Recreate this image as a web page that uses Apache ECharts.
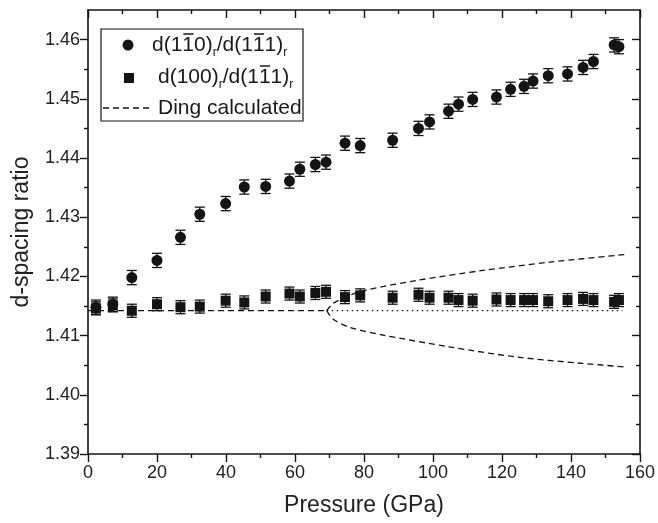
<!DOCTYPE html>
<html><head><meta charset="utf-8">
<script src="https://cdn.jsdelivr.net/npm/echarts@6/dist/echarts.min.js"></script>
<style>html,body{margin:0;padding:0;background:#fff}#c{width:658px;height:523px}</style>
</head><body><div id="c"></div>
<script>
// ---- data ----
const pressure = [2.3, 7.2, 12.7, 20.0, 26.8, 32.4, 39.9, 45.3, 51.5, 58.4, 61.4, 65.9, 69.0, 74.5, 78.9, 88.3, 95.8, 99.0, 104.5, 107.4, 111.5, 118.4, 122.5, 126.4, 129.0, 133.4, 139.0, 143.5, 146.5, 152.5, 153.9];
const ratio110 = [1.4148, 1.4153, 1.4198, 1.4227, 1.4266, 1.4305, 1.4323, 1.4351, 1.4352, 1.4361, 1.4381, 1.4389, 1.4393, 1.4425, 1.4421, 1.4430, 1.4450, 1.4461, 1.4479, 1.4491, 1.4499, 1.4503, 1.4516, 1.4521, 1.4530, 1.4539, 1.4542, 1.4553, 1.4563, 1.4591, 1.4588];
const err110 = [0.0012, 0.0012, 0.0012, 0.0012, 0.0012, 0.0012, 0.0012, 0.0012, 0.0012, 0.0012, 0.0012, 0.0012, 0.0012, 0.0012, 0.0012, 0.0012, 0.0012, 0.0012, 0.0012, 0.0012, 0.0012, 0.0012, 0.0012, 0.0012, 0.0012, 0.0012, 0.0012, 0.0012, 0.0012, 0.0012, 0.0012];
const ratio100 = [1.4146, 1.4151, 1.4142, 1.4153, 1.4148, 1.4149, 1.4159, 1.4156, 1.4166, 1.4171, 1.4166, 1.4172, 1.4174, 1.4165, 1.4168, 1.4164, 1.4169, 1.4164, 1.4164, 1.4160, 1.4159, 1.4161, 1.4160, 1.4160, 1.4160, 1.4158, 1.4160, 1.4162, 1.4160, 1.4157, 1.4160];
const err100 = [0.0011, 0.0011, 0.0011, 0.0011, 0.0011, 0.0011, 0.0011, 0.0011, 0.0011, 0.0011, 0.0011, 0.0011, 0.0011, 0.0011, 0.0011, 0.0011, 0.0011, 0.0011, 0.0011, 0.0011, 0.0011, 0.0011, 0.0011, 0.0011, 0.0011, 0.0011, 0.0011, 0.0011, 0.0011, 0.0011, 0.0011];
// Ding calculated
const dingCubicX = [0, 69.2];
const dingCubicY = [1.41421, 1.41421];
const dingUpperX = [69.2, 71.0, 75.8, 80.6, 95.1, 114.4, 133.7, 155.9];
const dingUpperY = [1.41421, 1.4154, 1.4168, 1.4177, 1.4193, 1.4210, 1.4224, 1.4237];
const dingLowerX = [69.2, 71.0, 75.8, 85.4, 104.7, 124.0, 143.3, 155.9];
const dingLowerY = [1.41421, 1.4128, 1.4114, 1.4101, 1.4081, 1.4064, 1.4053, 1.4047];
const dingDottedX = [69.2, 154.9];
const dingDottedY = [1.41421, 1.41421];
// ticks
const xTicks = [0, 20, 40, 60, 80, 100, 120, 140, 160];
const yTicks = [1.39, 1.40, 1.41, 1.42, 1.43, 1.44, 1.45, 1.46];
const yMinorTicks = [1.395, 1.405, 1.415, 1.425, 1.435, 1.445, 1.455];

const FONT = '"Liberation Sans", Arial, Helvetica, sans-serif';
const INK = '#141414';
const zip = (a, b) => a.map((v, i) => [v, b[i]]);

const chart = echarts.init(document.getElementById('c'), null, {renderer: 'canvas'});

function xAx(pos, major, inside, showLabel) {
  return {
    type: 'value', position: pos, min: xTicks[0], max: xTicks[xTicks.length - 1], interval: 20,
    axisLine: {show: major, onZero: false, lineStyle: {color: INK, width: 1.6}},
    axisTick: {show: true, inside: inside, length: 8, lineStyle: {color: INK, width: 1.4}},
    minorTick: {show: true, splitNumber: 2, length: 4, lineStyle: {color: INK, width: 1.4}},
    axisLabel: {show: showLabel, margin: 10, fontSize: 18, color: '#222', fontFamily: FONT},
    splitLine: {show: false}, minorSplitLine: {show: false}
  };
}
function yAx(pos, values, len, inside, showLabel, showLine) {
  return {
    type: 'value', position: pos, min: 1.39, max: 1.465, interval: 0.005,
    axisLine: {show: showLine, onZero: false, lineStyle: {color: INK, width: 1.6}},
    axisTick: {show: true, inside: inside, length: len, customValues: values, lineStyle: {color: INK, width: 1.4}},
    axisLabel: {show: showLabel, customValues: yTicks, margin: 8, fontSize: 18, color: '#222', fontFamily: FONT,
      formatter: v => v.toFixed(2)},
    splitLine: {show: false}
  };
}

const xAxes = [xAx('bottom', true, false, true), xAx('top', true, true, false)];
xAxes[0].name = 'Pressure (GPa)';
xAxes[0].nameLocation = 'middle';
xAxes[0].nameGap = 40;
xAxes[0].nameTextStyle = {fontSize: 23, color: '#222', fontFamily: FONT};

const yAxes = [
  yAx('left', yTicks, 8, false, true, true),
  yAx('left', yMinorTicks, 4, false, false, false),
  yAx('right', yTicks, 8, true, false, true),
  yAx('right', yMinorTicks, 4, true, false, false)
];
yAxes[0].name = 'd-spacing ratio';
yAxes[0].nameLocation = 'middle';
yAxes[0].nameGap = 55;
yAxes[0].nameTextStyle = {fontSize: 23, color: '#222', fontFamily: FONT};

function errSeries(vals, errs) {
  return {
    type: 'custom', xAxisIndex: 0, yAxisIndex: 0, z: 3,
    data: pressure.map((p, i) => [p, vals[i] - errs[i], vals[i] + errs[i]]),
    renderItem: function (params, api) {
      const lo = api.coord([api.value(0), api.value(1)]);
      const hi = api.coord([api.value(0), api.value(2)]);
      const hw = 5;
      const st = {stroke: INK, lineWidth: 1.3};
      return {type: 'group', children: [
        {type: 'line', shape: {x1: lo[0], y1: lo[1], x2: hi[0], y2: hi[1]}, style: st},
        {type: 'line', shape: {x1: lo[0] - hw, y1: lo[1], x2: lo[0] + hw, y2: lo[1]}, style: st},
        {type: 'line', shape: {x1: hi[0] - hw, y1: hi[1], x2: hi[0] + hw, y2: hi[1]}, style: st}
      ]};
    }
  };
}
function lineSeries(xs, ys, dash, smooth) {
  return {
    type: 'line', data: zip(xs, ys), showSymbol: false, smooth: smooth, z: 2,
    lineStyle: {color: INK, width: 1.3, type: dash}, silent: true
  };
}

const series = [
  lineSeries(dingCubicX, dingCubicY, [6, 4], false),
  lineSeries(dingUpperX, dingUpperY, [6, 4], 0.3),
  lineSeries(dingLowerX, dingLowerY, [6, 4], 0.3),
  lineSeries(dingDottedX, dingDottedY, [1.5, 3.5], false),
  errSeries(ratio110, err110),
  errSeries(ratio100, err100),
  {type: 'scatter', name: 'd110', data: zip(pressure, ratio110), symbol: 'circle', symbolSize: 11,
   itemStyle: {color: INK, opacity: 1}, z: 5},
  {type: 'scatter', name: 'd100', data: zip(pressure, ratio100), symbol: 'rect', symbolSize: 10,
   itemStyle: {color: INK, opacity: 1}, z: 5}
];

// ---- legend (drawn as graphic: text with sub/overlines) ----
const mctx = document.createElement('canvas').getContext('2d');
function tw(t, fs) { mctx.font = fs + 'px ' + FONT; return mctx.measureText(t).width; }
function richLabel(pieces, x0, base) {
  const out = [];
  let x = x0;
  pieces.forEach(p => {
    const fs = p.sub ? 12 : 21;
    const b = p.sub ? base + 5 : base;
    const w = tw(p.t, fs);
    out.push({type: 'text', x: x, y: b - 0.3465 * fs,
      style: {text: p.t, font: fs + 'px ' + FONT, fill: '#1a1a1a', verticalAlign: 'middle', align: 'left'}});
    if (p.over) {
      out.push({type: 'line', shape: {x1: x + 1, y1: b - 18, x2: x + w - 0.5, y2: b - 18},
        style: {stroke: '#1a1a1a', lineWidth: 1.5}});
    }
    x += w;
  });
  return out;
}
const row1 = [{t: 'd(1'}, {t: '1', over: true}, {t: '0)'}, {t: 'r', sub: true}, {t: '/d(1'}, {t: '1', over: true}, {t: '1)'}, {t: 'r', sub: true}];
const row2 = [{t: 'd(100)'}, {t: 'r', sub: true}, {t: '/d(1'}, {t: '1', over: true}, {t: '1)'}, {t: 'r', sub: true}];
const row3 = [{t: 'Ding calculated'}];

const legendEls = [
  {type: 'rect', shape: {x: 101, y: 29, width: 202, height: 92}, style: {fill: '#fff', stroke: INK, lineWidth: 1.2}},
  {type: 'circle', shape: {cx: 128, cy: 45, r: 5.5}, style: {fill: INK}},
  {type: 'rect', shape: {x: 124, y: 73, width: 10, height: 10}, style: {fill: INK}},
  {type: 'line', shape: {x1: 103, y1: 108, x2: 153, y2: 108}, style: {stroke: INK, lineWidth: 1.3, lineDash: [6, 4]}}
].concat(richLabel(row1, 152, 52), richLabel(row2, 158, 84), richLabel(row3, 158, 115));

chart.setOption({
  animation: false,
  backgroundColor: '#fff',
  grid: {left: 88, right: 17, top: 10, bottom: 69, containLabel: false},
  xAxis: xAxes,
  yAxis: yAxes,
  series: series,
  graphic: [{type: 'group', z: 100, children: legendEls}]
});
</script></body></html>
